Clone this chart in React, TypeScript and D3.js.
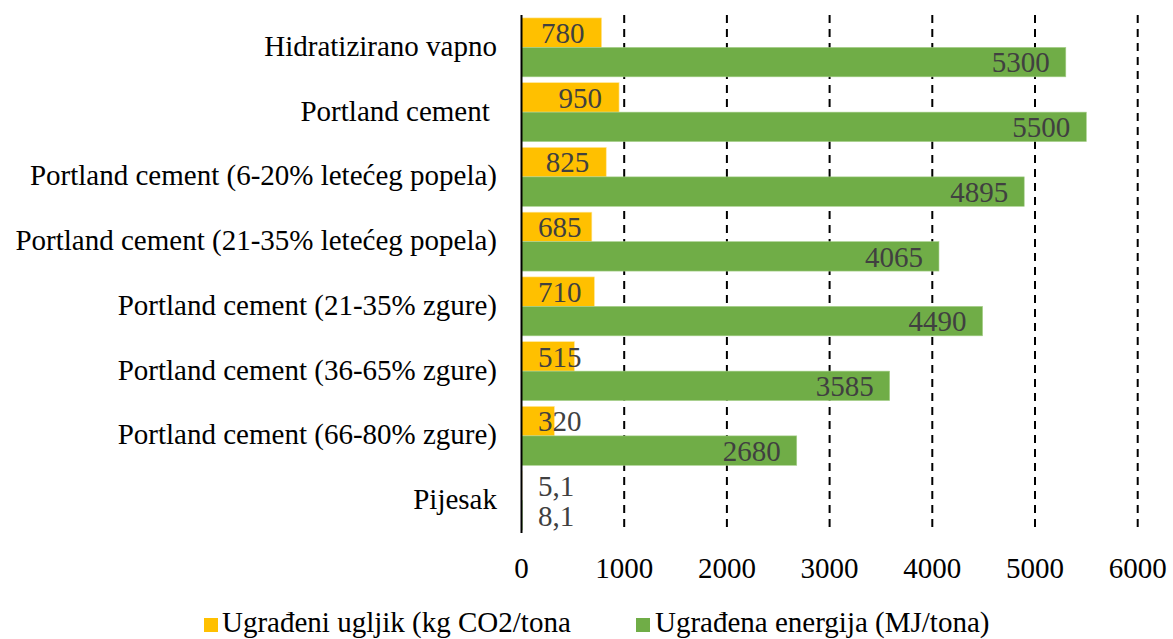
import React from "react";
import * as d3 from "d3";

const categories = [
  "Hidratizirano vapno",
  "Portland cement ",
  "Portland cement (6-20% letećeg popela)",
  "Portland cement (21-35% letećeg popela)",
  "Portland cement (21-35% zgure)",
  "Portland cement (36-65% zgure)",
  "Portland cement (66-80% zgure)",
  "Pijesak",
];
const carbon = [780, 950, 825, 685, 710, 515, 320, 5.1];
const energy = [5300, 5500, 4895, 4065, 4490, 3585, 2680, 8.1];
const xTicks = [0, 1000, 2000, 3000, 4000, 5000, 6000];
const seriesNames = ["Ugrađeni ugljik (kg CO2/tona", "Ugrađena energija (MJ/tona)"];

const W = 1173;
const H = 639;
const FONT = "'Liberation Serif', 'Times New Roman', serif";
const FS = 29;
const YELLOW = "#FFC000";
const GREEN = "#70AD47";
const LABEL = "#404040";

const fmt = (v: number) => (Number.isInteger(v) ? String(v) : String(v).replace(".", ","));

export default function App() {
  const x = d3.scaleLinear().domain([0, 6000]).range([521.5, 1137.7]);
  const y = d3
    .scaleBand<string>()
    .domain(categories)
    .range([15, 533])
    .paddingInner(0.09)
    .paddingOuter(0.045);
  const sub = d3.scaleBand<number>().domain([0, 1]).range([0, y.bandwidth()]);
  const barH = sub.bandwidth();
  const x0 = x(0);

  return (
    <svg width={W} height={H} style={{ position: "absolute", left: 0, top: 0 }} fontFamily={FONT}>
      <rect width={W} height={H} fill="#fff" />

      {/* dashed gridlines */}
      {xTicks.slice(1).map((t) => (
        <line
          key={t}
          x1={x(t)}
          x2={x(t)}
          y1={15}
          y2={533}
          stroke="#000"
          strokeWidth={2}
          strokeDasharray="8,6"
        />
      ))}

      {categories.map((c, i) => {
        const yb = y(c) as number;
        const yc = yb + sub(0)!;
        const ye = yb + sub(1)!;
        const cx = x(carbon[i]);
        const ex = x(energy[i]);
        const small = carbon[i] < 50;
        // carbon label: inside end, but never left of 538
        const cEnd = cx - 17;
        const clamp = cEnd - 1.5 * FS < 538;
        return (
          <g key={c}>
            <rect x={x0} y={yc} width={cx - x0} height={barH} fill={YELLOW} stroke="#FFE699" strokeWidth={0.6} />
            <rect x={x0} y={ye} width={ex - x0} height={barH} fill={GREEN} stroke="#A9D18E" strokeWidth={0.6} />
            {small ? (
              <>
                <text x={538} y={yc + barH / 2} dy="0.35em" fontSize={FS} fill={LABEL}>
                  {fmt(carbon[i])}
                </text>
                <text x={538} y={ye + barH / 2} dy="0.35em" fontSize={FS} fill={LABEL}>
                  {fmt(energy[i])}
                </text>
              </>
            ) : (
              <>
                <text
                  x={clamp ? 538 : cEnd}
                  textAnchor={clamp ? "start" : "end"}
                  y={yc + barH / 2}
                  dy="0.35em"
                  fontSize={FS}
                  fill={LABEL}
                >
                  {fmt(carbon[i])}
                </text>
                <text x={ex - 16} textAnchor="end" y={ye + barH / 2} dy="0.35em" fontSize={FS} fill={LABEL}>
                  {fmt(energy[i])}
                </text>
              </>
            )}
            <text
              x={497}
              y={yb + y.bandwidth() / 2}
              dy="0.29em"
              textAnchor="end"
              fontSize={FS}
              fill="#000"
              style={{ whiteSpace: "pre" }}
            >
              {c}
            </text>
          </g>
        );
      })}

      {/* axis line */}
      <line x1={x0} x2={x0} y1={15} y2={533} stroke="#000" strokeWidth={2} />

      {xTicks.map((t) => (
        <text key={t} x={x(t)} y={578} textAnchor="middle" fontSize={FS} fill="#000">
          {t}
        </text>
      ))}

      {/* legend */}
      <rect x={204} y={618} width={14} height={14} fill={YELLOW} />
      <text x={222} y={632} fontSize={FS} fill="#000">
        {seriesNames[0]}
      </text>
      <rect x={636} y={618} width={14} height={14} fill={GREEN} />
      <text x={655} y={632} fontSize={FS} fill="#000">
        {seriesNames[1]}
      </text>
    </svg>
  );
}
